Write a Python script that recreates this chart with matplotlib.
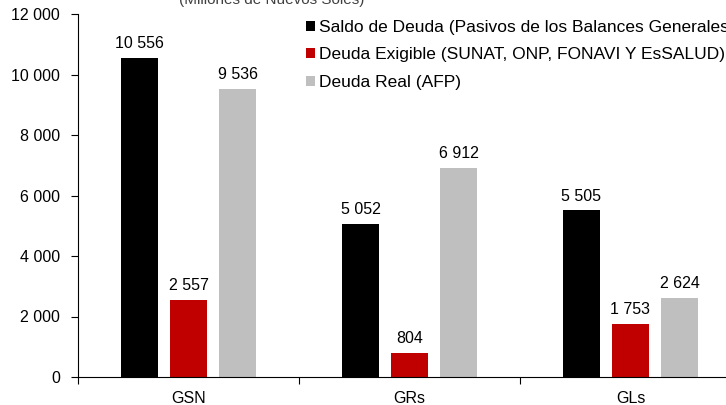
import numpy as np
import matplotlib.pyplot as plt
from matplotlib.ticker import FuncFormatter

categories = ['GSN', 'GRs', 'GLs']
saldo = [10556, 5052, 5505]
exigible = [2557, 804, 1753]
real = [9536, 6912, 2624]
series_names = ['Saldo de Deuda (Pasivos de los Balances Generales)',
                'Deuda Exigible (SUNAT, ONP, FONAVI Y EsSALUD)',
                'Deuda Real (AFP)']
colors = ['#000000', '#C00000', '#BFBFBF']

plt.rcParams['font.family'] = ['Liberation Sans', 'DejaVu Sans']

fig = plt.figure(figsize=(7.26, 4.05), dpi=100)
ax = fig.add_axes([78 / 726, 1 - 377 / 405, 663 / 726, 363 / 405])

x = np.arange(len(categories))
width = 0.167
offset = 0.222
for i, (vals, name, c) in enumerate(zip([saldo, exigible, real], series_names, colors)):
    bars = ax.bar(x + (i - 1) * offset, vals, width, color=c, label=name)
    for b, v in zip(bars, vals):
        lbl = f'{v:,}'.replace(',', ' ')
        ax.annotate(lbl, (b.get_x() + b.get_width() / 2, v), xytext=(0, 5),
                    textcoords='offset points', ha='center', va='bottom',
                    fontsize=11.5)

ax.set_xlim(-0.5, 2.5)
ax.set_ylim(0, 12000)
ax.set_yticks(range(0, 12001, 2000))
ax.yaxis.set_major_formatter(FuncFormatter(lambda v, p: f'{int(v):,}'.replace(',', ' ')))
ax.set_xticks([-0.5, 0.5, 1.5, 2.5])
ax.set_xticklabels([])
ax.set_xticks(x, minor=True)
ax.set_xticklabels(categories, minor=True)
ax.tick_params(axis='x', which='major', length=5, direction='out')
ax.tick_params(axis='x', which='minor', length=0, pad=10, labelsize=11.5)
ax.tick_params(axis='y', length=5, direction='out', labelsize=11.5, pad=8)
for s in ['top', 'right']:
    ax.spines[s].set_visible(False)

ax.legend(loc='upper left', bbox_to_anchor=(306 / 726, 1 - 20 / 405),
          bbox_transform=fig.transFigure, frameon=False, fontsize=12.5,
          handlelength=0.5, handleheight=0.5, handletextpad=0.25,
          labelspacing=0.72, borderaxespad=0, borderpad=0)

fig.text(272 / 726, 1 - 4 / 405, '(Millones de Nuevos Soles)', ha='center',
         va='baseline', fontsize=11, color='#404040')

fig.savefig('out.png', dpi=100)
